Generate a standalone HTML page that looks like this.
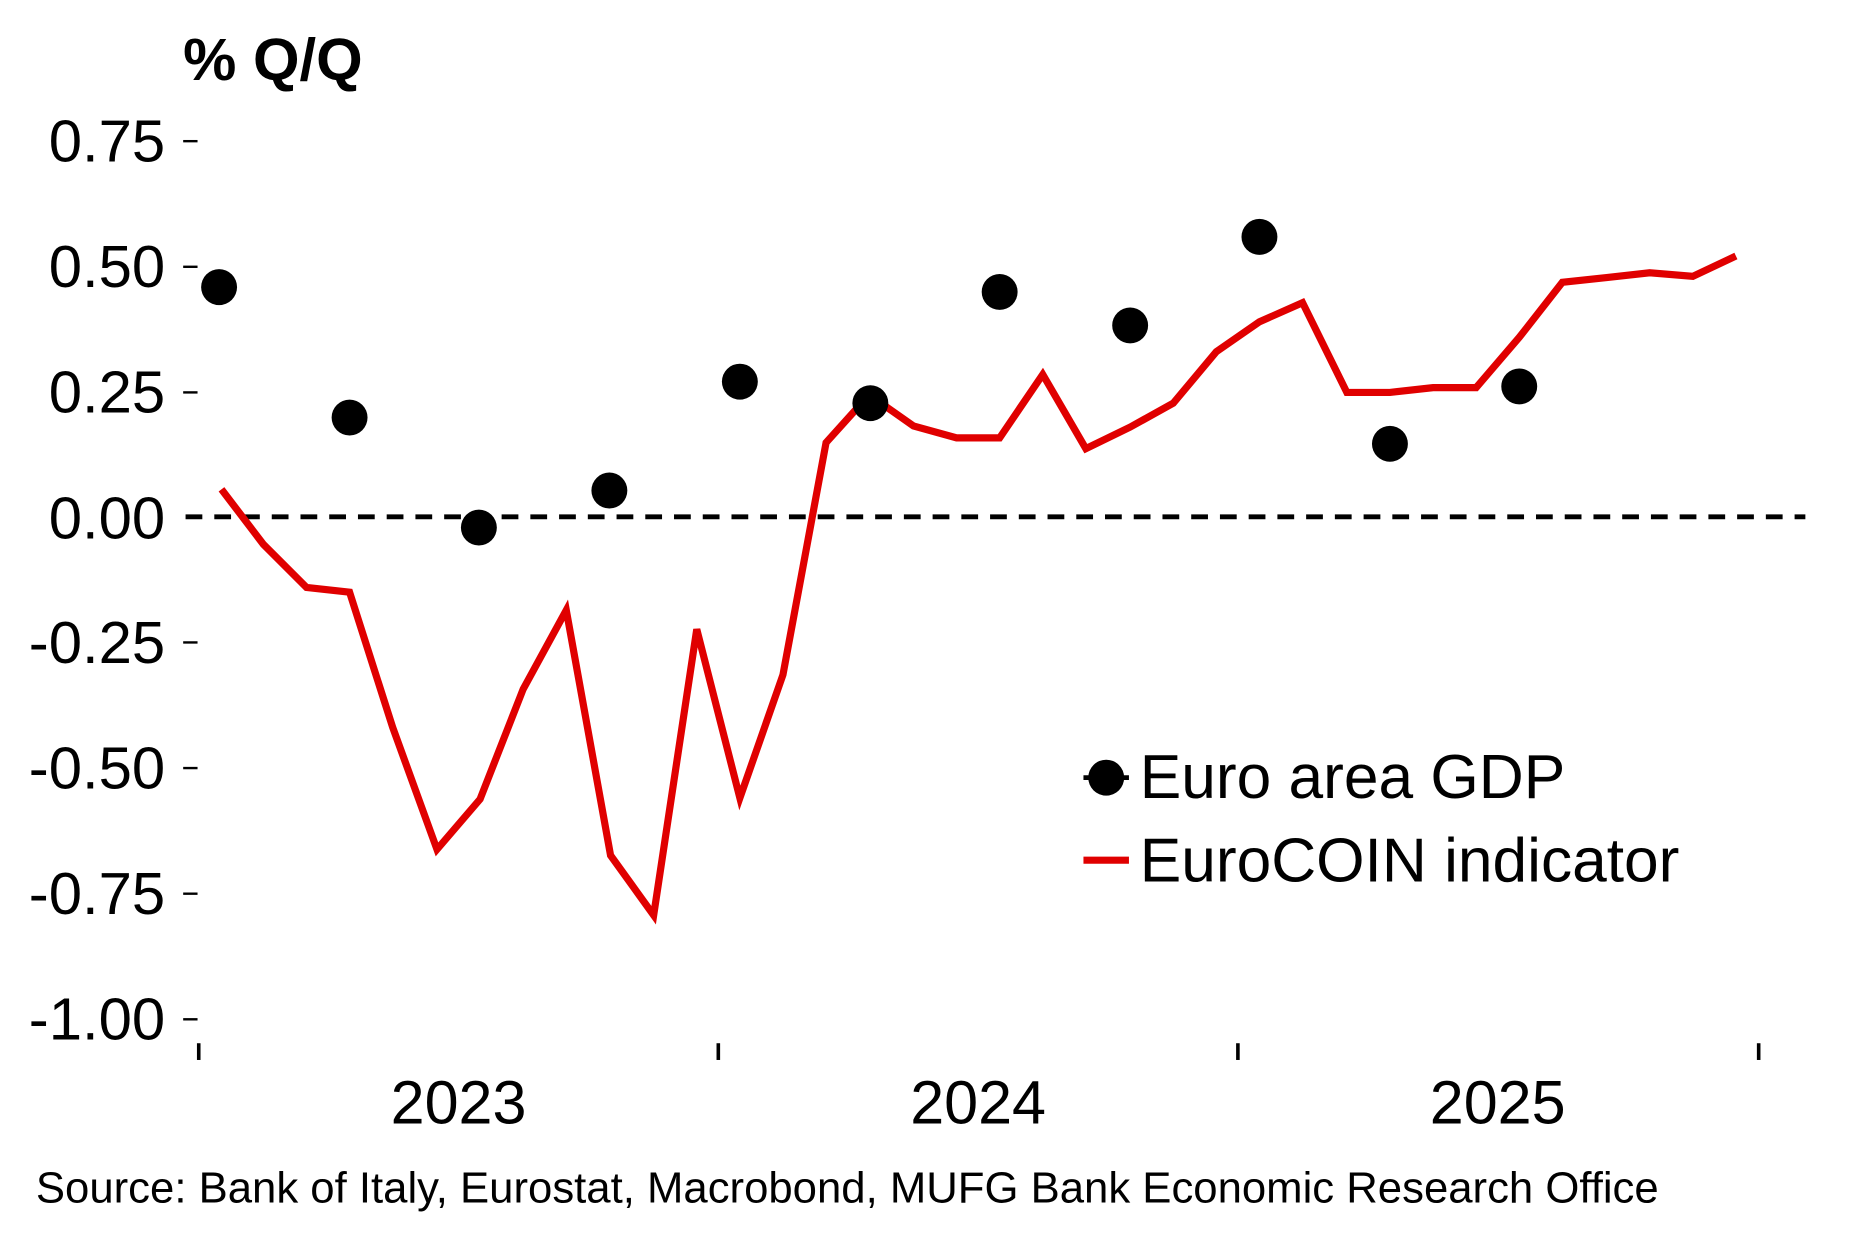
<!DOCTYPE html>
<html><head><meta charset="utf-8"><style>html,body{margin:0;padding:0;background:#fff}svg{display:block}</style></head>
<body>
<svg width="1876" height="1249" viewBox="0 0 1567 1044" preserveAspectRatio="none" xmlns="http://www.w3.org/2000/svg" font-family="Liberation Sans, Arial, sans-serif">
<rect width="1567" height="1044" fill="#fff"/>
<text x="153" y="67" font-size="50" font-weight="bold">% Q/Q</text>
<g font-size="50" text-anchor="end">
<text x="138" y="135">0.75</text>
<text x="138" y="240">0.50</text>
<text x="138" y="345">0.25</text>
<text x="138" y="450">0.00</text>
<text x="138" y="554">-0.25</text>
<text x="138" y="659">-0.50</text>
<text x="138" y="764">-0.75</text>
<text x="138" y="869">-1.00</text>
</g>
<g stroke="#000" stroke-width="2">
<line x1="153" y1="118" x2="165" y2="118"/>
<line x1="153" y1="223" x2="165" y2="223"/>
<line x1="153" y1="328" x2="165" y2="328"/>
<line x1="153" y1="537" x2="165" y2="537"/>
<line x1="153" y1="642" x2="165" y2="642"/>
<line x1="153" y1="747" x2="165" y2="747"/>
<line x1="153" y1="852" x2="165" y2="852"/>
</g>
<g stroke="#000" stroke-width="3">
<line x1="166" y1="872" x2="166" y2="886"/>
<line x1="600" y1="872" x2="600" y2="886"/>
<line x1="1034" y1="872" x2="1034" y2="886"/>
<line x1="1469" y1="872" x2="1469" y2="886"/>
</g>
<g font-size="51" text-anchor="middle">
<text x="383" y="939">2023</text>
<text x="817" y="939">2024</text>
<text x="1251" y="939">2025</text>
</g>
<line x1="155" y1="432" x2="1508" y2="432" stroke="#000" stroke-width="4" stroke-dasharray="14 10"/>
<polyline fill="none" stroke="#e00000" stroke-width="6" stroke-linejoin="miter" points="185,409 220,455 256,491 292,495 328,608 365,710 401,668 437,576 473,510 510,715 546,765 582,526 618,667 654,564 690,370 726,330 763,356 799,366 835,366 871,313 907,375 944,357 980,337 1016,294 1052,269 1088,253 1125,328 1161,328 1197,324 1233,324 1269,282 1305,236 1342,232 1378,228 1414,231 1450,214"/>
<g fill="#000">
<circle cx="183" cy="240" r="15"/>
<circle cx="292" cy="349" r="15"/>
<circle cx="400" cy="441" r="15"/>
<circle cx="509" cy="410" r="15"/>
<circle cx="618" cy="319" r="15"/>
<circle cx="727" cy="337" r="15"/>
<circle cx="835" cy="244" r="15"/>
<circle cx="944" cy="272" r="15"/>
<circle cx="1052" cy="198" r="15"/>
<circle cx="1161" cy="371" r="15"/>
<circle cx="1269" cy="323" r="15"/>
<line x1="905" y1="650" x2="943" y2="650" stroke="#000" stroke-width="4"/>
<circle cx="924" cy="650" r="15"/>
</g>
<line x1="905" y1="719" x2="943" y2="719" stroke="#e00000" stroke-width="6"/>
<g font-size="52">
<text x="952" y="667">Euro area GDP</text>
<text x="952" y="737">EuroCOIN indicator</text>
</g>
<text x="30" y="1005" font-size="36.5">Source: Bank of Italy, Eurostat, Macrobond, MUFG Bank Economic Research Office</text>
</svg>
</body></html>
